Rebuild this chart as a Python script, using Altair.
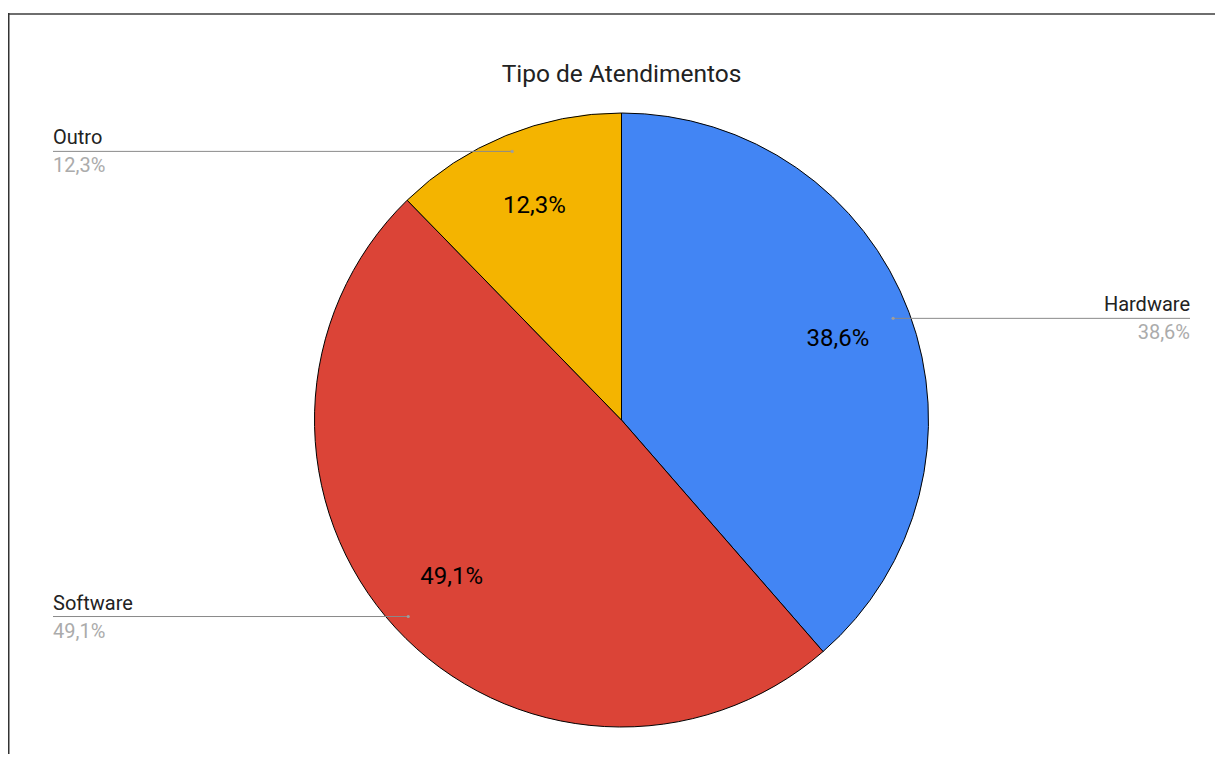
import altair as alt
import pandas as pd

categories = ["Hardware", "Software", "Outro"]
values = [38.6, 49.1, 12.3]
pct_labels = ["38,6%", "49,1%", "12,3%"]
colors = ["#4285F4", "#DB4437", "#F4B400"]
title_text = "Tipo de Atendimentos"

df = pd.DataFrame({
    "cat": categories,
    "value": values,
    "order": list(range(len(categories))),
    "label": pct_labels,
})

W, H = 1207, 746
CX, CY, R = 613.5, 412, 307
R_IN, R_DOT = 231, 290
X_RIGHT, X_LEFT = 1182, 45
FONT = "Roboto"

arc = alt.Chart(df).mark_arc(radius=R, stroke="#000000", strokeWidth=1).encode(
    theta=alt.Theta("value:Q", stack=True),
    order=alt.Order("order:Q"),
    color=alt.Color("cat:N", scale=alt.Scale(domain=categories, range=colors), legend=None),
    x=alt.value(CX),
    y=alt.value(CY),
)

base = alt.Chart(df).transform_window(
    cum="sum(value)", sort=[alt.SortField("order")], frame=[None, 0]
).transform_joinaggregate(
    total="sum(value)"
).transform_calculate(
    mid="(datum.cum - datum.value / 2) / datum.total * 2 * PI"
).transform_calculate(
    ix=f"{CX} + {R_IN} * sin(datum.mid)",
    iy=f"{CY} - {R_IN} * cos(datum.mid)",
    dx_=f"{CX} + {R_DOT} * sin(datum.mid)",
    dy_=f"{CY} - {R_DOT} * cos(datum.mid)",
    edge=f"sin(datum.mid) > 0 ? {X_RIGHT} : {X_LEFT}",
).transform_calculate(
    ny="datum.dy_ - 7",
    py="datum.dy_ + 21",
)

inner = base.mark_text(font=FONT, fontSize=24, color="#000000", align="center", baseline="middle").encode(
    x=alt.X("ix:Q", scale=None),
    y=alt.Y("iy:Q", scale=None),
    text="label:N",
)

lines = base.mark_rule(color="#8a8a8a", strokeWidth=1).encode(
    x=alt.X("dx_:Q", scale=None),
    x2="edge:Q",
    y=alt.Y("dy_:Q", scale=None),
)

dots = base.mark_circle(color="#9e9e9e", size=10, opacity=1).encode(
    x=alt.X("dx_:Q", scale=None),
    y=alt.Y("dy_:Q", scale=None),
)

def side_labels(flt, align):
    b = base.transform_filter(flt)
    name = b.mark_text(font=FONT, fontSize=20, color="#222222", align=align, baseline="alphabetic").encode(
        x=alt.X("edge:Q", scale=None),
        y=alt.Y("ny:Q", scale=None),
        text="cat:N",
    )
    pct = b.mark_text(font=FONT, fontSize=20, color="#ababab", align=align, baseline="alphabetic").encode(
        x=alt.X("edge:Q", scale=None),
        y=alt.Y("py:Q", scale=None),
        text="label:N",
    )
    return name + pct

right_labels = side_labels("sin(datum.mid) > 0", "right")
left_labels = side_labels("sin(datum.mid) <= 0", "left")

one = pd.DataFrame({"k": [0]})
title = alt.Chart(one).mark_text(
    font=FONT, fontSize=24.5, color="#222222", align="center", baseline="alphabetic", text=title_text
).encode(x=alt.value(CX), y=alt.value(74))

top_rule = alt.Chart(one).mark_rule(color="#6e6e6e", strokeWidth=2).encode(
    x=alt.value(0), x2=alt.value(W), y=alt.value(6)
)
left_rule = alt.Chart(one).mark_rule(color="#333333", strokeWidth=1.5).encode(
    x=alt.value(0.75), y=alt.value(5), y2=alt.value(H)
)

chart = alt.layer(
    arc, lines, dots, inner, right_labels, left_labels, title, top_rule, left_rule
).properties(
    width=W, height=H, padding=0, autosize=alt.AutoSizeParams(type="none"), background="white"
).configure_view(stroke=None)

chart.save("out.html", embed_options={"renderer": "svg", "actions": False})
